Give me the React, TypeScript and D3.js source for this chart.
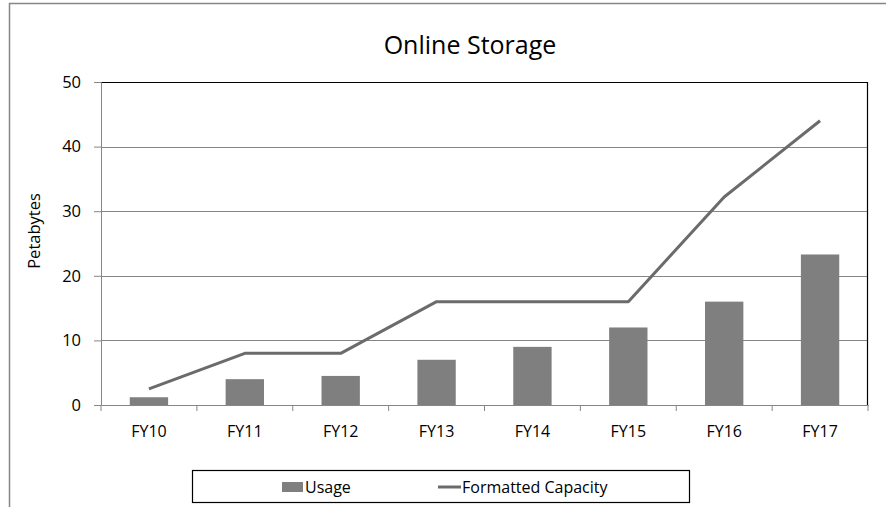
import { useEffect, useRef } from "react";
import * as d3 from "d3";

const years = ["FY10", "FY11", "FY12", "FY13", "FY14", "FY15", "FY16", "FY17"];
const usage = [1.2, 4, 4.5, 7, 9, 12, 16, 23.3];
const capacity = [2.5, 8, 8, 16, 16, 16, 32.2, 44];
const yTicks = [0, 10, 20, 30, 40, 50];

function App() {
  const canvas = useRef<SVGSVGElement>(null);

  useEffect(() => {
    const width = 886;
    const height = 507;
    const margin = { top: 82, left: 101, bottom: 102, right: 18 };
    const iwidth = width - margin.left - margin.right;
    const iheight = height - margin.top - margin.bottom;
    const font = "'Open Sans', sans-serif";

    const svg = d3.select(canvas.current).attr("width", width).attr("height", height);
    svg.selectAll("*").remove();

    // outer chart border (top + left only visible)
    svg.append("path")
      .attr("d", `M9.5,${height} V3.5 H${width}`)
      .attr("fill", "none")
      .attr("stroke", "#868686")
      .attr("stroke-width", 1.5);

    svg.append("text")
      .attr("x", 470)
      .attr("y", 54)
      .attr("text-anchor", "middle")
      .attr("font-family", font)
      .attr("font-size", 25)
      .attr("fill", "#000")
      .text("Online Storage");

    const g = svg.append("g").attr("transform", `translate(${margin.left},${margin.top})`);

    const x = d3.scaleBand().domain(years).range([0, iwidth]).paddingInner(0.6).paddingOuter(0.3);
    const y = d3.scaleLinear().domain([0, 50]).range([iheight, 0]);

    // gridlines
    g.selectAll(".grid")
      .data(yTicks.filter((t) => t > 0 && t < 50))
      .join("line")
      .attr("x1", 0)
      .attr("x2", iwidth)
      .attr("y1", (d) => Math.round(y(d)) + 0.5)
      .attr("y2", (d) => Math.round(y(d)) + 0.5)
      .attr("stroke", "#868686")
      .attr("stroke-width", 1);

    // plot area border top & right
    g.append("path")
      .attr("d", `M0,0.5 H${iwidth - 0.5} V${iheight}`)
      .attr("fill", "none")
      .attr("stroke", "#000")
      .attr("stroke-width", 1.2);

    // bars
    g.selectAll(".bar")
      .data(years.map((name, i) => ({ name, v: usage[i] })))
      .join("rect")
      .attr("x", (d) => x(d.name)!)
      .attr("y", (d) => y(d.v))
      .attr("width", x.bandwidth())
      .attr("height", (d) => iheight - y(d.v))
      .attr("fill", "#7f7f7f");

    // capacity line
    const line = d3.line<number>()
      .x((_, i) => x(years[i])! + x.bandwidth() / 2)
      .y((d) => y(d));
    g.append("path")
      .datum(capacity)
      .attr("d", line)
      .attr("fill", "none")
      .attr("stroke", "#6b6b6b")
      .attr("stroke-width", 3)
      .attr("stroke-linejoin", "round");

    // y axis
    const yAxis = g.append("g").call(d3.axisLeft(y).tickValues(yTicks).tickSize(7).tickPadding(13));
    yAxis.select(".domain").attr("stroke", "#868686");
    yAxis.selectAll("line").attr("stroke", "#868686");
    yAxis.selectAll("text").attr("font-family", font).attr("font-size", 16.5).attr("fill", "#000");

    // x axis
    const xAxis = g.append("g")
      .attr("transform", `translate(0,${iheight})`)
      .call(d3.axisBottom(x).tickSize(0).tickPadding(21));
    xAxis.select(".domain").attr("stroke", "#868686");
    xAxis.selectAll("text").attr("font-family", font).attr("font-size", 16).attr("fill", "#000");
    const step = iwidth / years.length;
    xAxis.selectAll(".sep")
      .data(d3.range(years.length + 1))
      .join("line")
      .attr("x1", (d) => d * step)
      .attr("x2", (d) => d * step)
      .attr("y1", 0)
      .attr("y2", 6)
      .attr("stroke", "#868686");

    // y label
    svg.append("text")
      .attr("transform", `translate(40,231) rotate(-90)`)
      .attr("text-anchor", "middle")
      .attr("font-family", font)
      .attr("font-size", 16.5)
      .attr("fill", "#000")
      .text("Petabytes");

    // legend
    const lg = svg.append("g");
    lg.append("rect")
      .attr("x", 192.5)
      .attr("y", 470.5)
      .attr("width", 497)
      .attr("height", 32)
      .attr("fill", "#fff")
      .attr("stroke", "#000")
      .attr("stroke-width", 1.2);
    lg.append("rect").attr("x", 282).attr("y", 482).attr("width", 21).attr("height", 10).attr("fill", "#7f7f7f");
    lg.append("text")
      .attr("x", 305).attr("y", 493)
      .attr("font-family", font).attr("font-size", 16).attr("fill", "#000")
      .text("Usage");
    lg.append("line")
      .attr("x1", 438).attr("x2", 461).attr("y1", 487).attr("y2", 487)
      .attr("stroke", "#6b6b6b").attr("stroke-width", 3);
    lg.append("text")
      .attr("x", 462).attr("y", 493)
      .attr("font-family", font).attr("font-size", 16).attr("fill", "#000")
      .text("Formatted Capacity");
  }, []);

  return (
    <div>
      <svg ref={canvas} style={{ position: "absolute", left: 0, top: 0 }} />
    </div>
  );
}

export default App;
